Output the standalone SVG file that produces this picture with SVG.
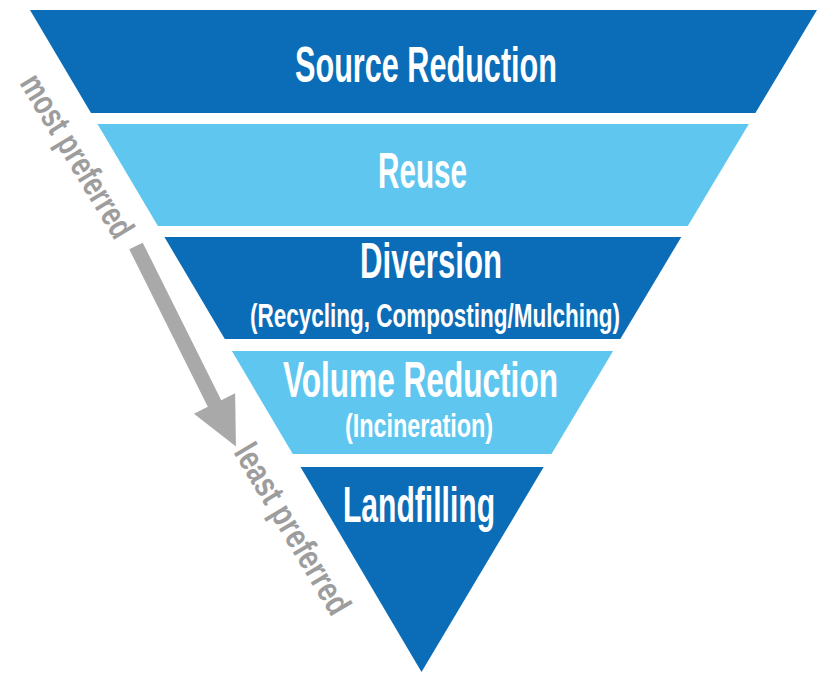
<svg xmlns="http://www.w3.org/2000/svg" width="825" height="674" viewBox="0 0 825 674">
<style>
.dark{fill:#0b6db7}
.light{fill:#5fc7ef}
.lbl{font-family:"Liberation Sans",Arial,sans-serif;font-weight:bold;fill:#ffffff}
.main{font-size:50px}
.sub{font-size:34px}
.side{font-family:"Liberation Sans",Arial,sans-serif;font-weight:bold;font-size:35px;fill:#9d9d9d}
</style>
<rect x="0" y="0" width="825" height="674" fill="#ffffff"/>
<g id="source-reduction">
<polygon class="dark" points="30,10 817,10 755.4,113 91,113"/>
<text class="lbl main" x="295" y="82" textLength="262" lengthAdjust="spacingAndGlyphs">Source Reduction</text>
</g>
<g id="reuse">
<polygon class="light" points="97.5,124 748.8,124 687.8,226 157.9,226"/>
<text class="lbl main" x="378" y="188" textLength="89" lengthAdjust="spacingAndGlyphs">Reuse</text>
</g>
<g id="diversion">
<polygon class="dark" points="164.4,237 681.3,237 620.3,339 224.8,339"/>
<text class="lbl main" x="360" y="278" textLength="142" lengthAdjust="spacingAndGlyphs">Diversion</text>
<text class="lbl sub" x="250" y="327" textLength="370" lengthAdjust="spacingAndGlyphs">(Recycling, Composting/Mulching)</text>
</g>
<g id="volume-reduction">
<polygon class="light" points="231.9,351 613.1,351 551.5,454 292.8,454"/>
<text class="lbl main" x="283" y="397" textLength="275" lengthAdjust="spacingAndGlyphs">Volume Reduction</text>
<text class="lbl sub" x="345" y="437" textLength="148" lengthAdjust="spacingAndGlyphs">(Incineration)</text>
</g>
<g id="landfilling">
<polygon class="dark" points="300.5,467 543.7,467 421.5,672"/>
<text class="lbl main" x="343" y="522" textLength="152" lengthAdjust="spacingAndGlyphs">Landfilling</text>
</g>
<g id="connectors">
<g transform="translate(136,246) rotate(63.5)">
<polygon fill="#a9a9a9" points="0,-7.5 176,-7.5 176,-23 224,0 176,23 176,7.5 0,7.5"/>
</g>
</g>
<g id="most-preferred">
<text class="side" transform="translate(19,83) rotate(58.7)" textLength="185" lengthAdjust="spacingAndGlyphs">most preferred</text>
</g>
<g id="least-preferred">
<text class="side" transform="translate(233,452) rotate(59.2)" textLength="193" lengthAdjust="spacingAndGlyphs">least preferred</text>
</g>
</svg>
